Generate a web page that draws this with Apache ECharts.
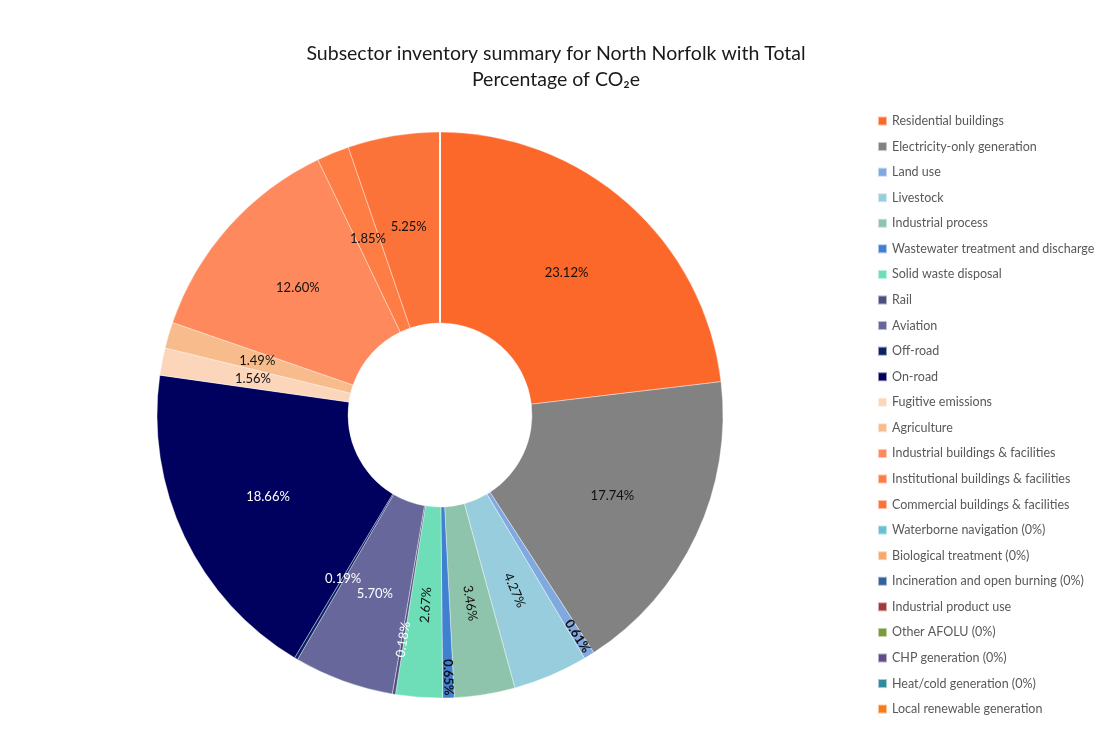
<!DOCTYPE html>
<html>
<head>
<meta charset="utf-8">
<title>Subsector inventory summary</title>
<script src="https://cdn.jsdelivr.net/npm/echarts@6/dist/echarts.min.js"></script>
<style>
  html, body { margin: 0; padding: 0; background: #fff; }
  #chart { width: 1100px; height: 753px; }
</style>
</head>
<body>
<div id="chart"></div>
<script>
// subsectors, in the order Excel draws them (clockwise from 12 o'clock)
const categories = [
  'Residential buildings',
  'Electricity-only generation',
  'Land use',
  'Livestock',
  'Industrial process',
  'Wastewater treatment and discharge',
  'Solid waste disposal',
  'Rail',
  'Aviation',
  'Off-road',
  'On-road',
  'Fugitive emissions',
  'Agriculture',
  'Industrial buildings & facilities',
  'Institutional buildings & facilities',
  'Commercial buildings & facilities',
  'Waterborne navigation (0%)',
  'Biological treatment (0%)',
  'Incineration and open burning (0%)',
  'Industrial product use',
  'Other AFOLU (0%)',
  'CHP generation (0%)',
  'Heat/cold generation (0%)',
  'Local renewable generation',
]

// share of total CO2e, %
const shares = [
  23.12, 17.74, 0.61, 4.27, 3.46, 0.65, 2.67, 0.18, 5.70, 0.19, 18.66,
  1.56, 1.49, 12.60, 1.85, 5.25,
  0, 0, 0, 0, 0, 0, 0, 0,
]

const palette = [
  '#fc672a', '#828282', '#80a9e0', '#97cddd', '#8ec3ac', '#3f80d0',
  '#6edeb8', '#4f4f7e', '#67679c', '#0c2266', '#00005e', '#fbd6bb',
  '#f8bc8c', '#fd895c', '#fd7d45', '#fc733a', '#6abfd0', '#f8a86e',
  '#35619c', '#a23a3a', '#7a9a3b', '#614c8a', '#2e8c9e', '#f77b1c',
]

// labels on dark slices are white
const whiteLabels = ['Rail', 'Aviation', 'Off-road', 'On-road']

// narrow slices get their label turned along the radius
const labelTweaks = {
  'Land use': { rotate: -58, padding: [0, 0, 0, 140], fontWeight: 'bold' },
  'Livestock': { rotate: -67 },
  'Industrial process': { rotate: -81 },
  'Wastewater treatment and discharge': { rotate: -88, padding: [0, 0, 0, 144], fontWeight: 'bold' },
  'Solid waste disposal': { rotate: 86 },
  'Rail': { rotate: 81, padding: [0, 74, 0, 0] },
}

const chart = echarts.init(document.getElementById('chart'))

const data = categories.map((name, i) => {
  const label = Object.assign(
    {
      show: shares[i] > 0,
      color: whiteLabels.includes(name) ? '#ffffff' : '#111111',
    },
    labelTweaks[name] || {}
  )
  return {
    name: name,
    value: shares[i],
    itemStyle: { color: palette[i] },
    label: label,
  }
})

const option = {
  backgroundColor: '#ffffff',
  animation: false,
  title: {
    text: 'Subsector inventory summary for North Norfolk with Total\nPercentage of CO₂e',
    left: 551,
    top: 36,
    textAlign: 'center',
    textStyle: {
      fontFamily: 'Lato',
      fontSize: 19.5,
      fontWeight: 'normal',
      lineHeight: 26,
      color: '#1a1a1a',
    },
  },
  legend: {
    orient: 'vertical',
    left: 877,
    top: 114,
    padding: 0,
    icon: 'rect',
    itemWidth: 9,
    itemHeight: 9,
    itemGap: 11.57,
    selectedMode: false,
    textStyle: {
      fontFamily: 'Lato',
      fontSize: 12.5,
      lineHeight: 14,
      color: '#595959',
    },
    data: categories,
  },
  series: [
    {
      type: 'pie',
      center: [440, 415],
      radius: [92, 283],
      startAngle: 90,
      clockwise: true,
      stillShowZeroSum: false,
      avoidLabelOverlap: false,
      itemStyle: {
        borderColor: 'rgba(255,255,255,0.55)',
        borderWidth: 0.7,
      },
      label: {
        position: 'inside',
        fontFamily: 'Lato',
        fontSize: 13,
        formatter: (p) => p.value.toFixed(2) + '%',
      },
      labelLine: { show: false },
      emphasis: { disabled: true },
      data: data,
    },
  ],
}

chart.setOption(option)
</script>
</body>
</html>
